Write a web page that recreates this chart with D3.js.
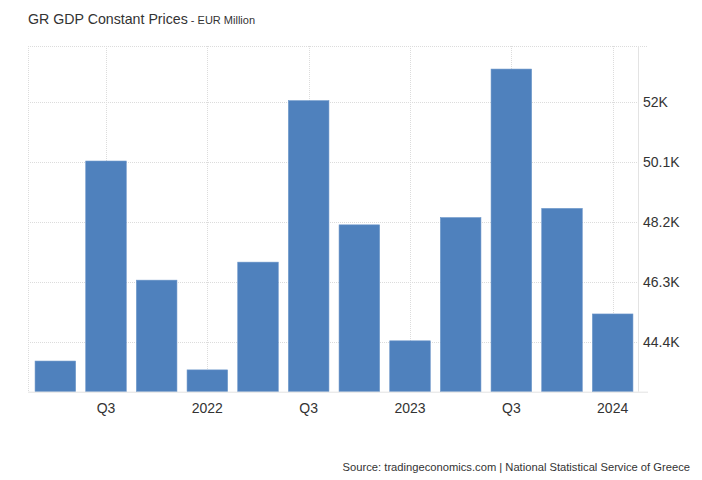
<!DOCTYPE html>
<html><head><meta charset="utf-8">
<script src="https://cdn.jsdelivr.net/npm/d3@7"></script>
<style>
body{margin:0;background:#fff;}
text{font-family:"Liberation Sans",Arial,sans-serif;}
</style></head>
<body>
<svg id="c" width="702" height="480"></svg>
<script>
const categories = ["2021Q2","2021Q3","2021Q4","2022Q1","2022Q2","2022Q3","2022Q4","2023Q1","2023Q2","2023Q3","2023Q4","2024Q1"];
const values = [43.79, 50.12, 46.35, 43.51, 46.92, 52.03, 48.10, 44.43, 48.33, 53.03, 48.62, 45.28];
const xTickCats = ["2021Q3","2022Q1","2022Q3","2023Q1","2023Q3","2024Q1"];
const xTickLabels = ["Q3","2022","Q3","2023","Q3","2024"];
const yTicks = [44.4, 46.3, 48.2, 50.1, 52.0];
const yTickLabels = ["44.4K","46.3K","48.2K","50.1K","52K"];

const svg = d3.select("#c");
const L = 28, R = 638, T = 46, B = 391.7;

const x = d3.scaleBand().domain(categories).range([30, 638]).paddingInner(0.2).paddingOuter(0.1);
const y = d3.scaleLinear().domain([42.82, 53.76]).range([B, T]);

// grid
const g = svg.append("g");
g.selectAll(".hg").data(yTicks).join("line")
  .attr("x1", L).attr("x2", R).attr("y1", d => Math.round(y(d)) + 0.5).attr("y2", d => Math.round(y(d)) + 0.5)
  .attr("stroke", "#dcdcdc").attr("stroke-dasharray", "1,1");
g.selectAll(".vg").data(xTickCats).join("line")
  .attr("x1", d => Math.round(x(d) + x.bandwidth()/2) + 0.5).attr("x2", d => Math.round(x(d) + x.bandwidth()/2) + 0.5)
  .attr("y1", T).attr("y2", B)
  .attr("stroke", "#dcdcdc").attr("stroke-dasharray", "1,1");
// top border
g.append("line").attr("x1", L).attr("x2", 648).attr("y1", T + 0.5).attr("y2", T + 0.5)
  .attr("stroke", "#dcdcdc").attr("stroke-dasharray", "1,1");
// left border
g.append("line").attr("x1", L + 0.5).attr("x2", L + 0.5).attr("y1", T).attr("y2", B)
  .attr("stroke", "#dcdcdc").attr("stroke-dasharray", "1,1");

// bars
svg.append("g").selectAll("rect").data(values).join("rect")
  .attr("x", (d, i) => x(categories[i]))
  .attr("width", x.bandwidth())
  .attr("y", d => y(d))
  .attr("height", d => B - y(d))
  .attr("fill", "#4f81bd")
  .attr("stroke", "#6a95c9").attr("stroke-width", 0.6);

// right axis line
svg.append("line").attr("x1", R + 0.5).attr("x2", R + 0.5).attr("y1", T).attr("y2", B)
  .attr("stroke", "#e3e3e3");
// bottom baseline
svg.append("line").attr("x1", L).attr("x2", 648).attr("y1", B + 0.5).attr("y2", B + 0.5)
  .attr("stroke", "#e3e3e3");

// y axis labels
const yAxis = d3.axisRight(y).tickValues(yTicks).tickSize(0).tickPadding(5)
  .tickFormat((d, i) => yTickLabels[i]);
const ya = svg.append("g").attr("transform", `translate(${R},0)`).call(yAxis);
ya.select(".domain").remove();
ya.selectAll("text").attr("font-size", 14).attr("fill", "#333").attr("font-family", "Liberation Sans, Arial, sans-serif");

// x axis labels
const xAxis = d3.axisBottom(x).tickValues(xTickCats).tickSize(0).tickPadding(11)
  .tickFormat((d, i) => xTickLabels[xTickCats.indexOf(d)]);
const xa = svg.append("g").attr("transform", `translate(0,${B})`).call(xAxis);
xa.select(".domain").remove();
xa.selectAll("text").attr("font-size", 14).attr("fill", "#333").attr("font-family", "Liberation Sans, Arial, sans-serif");

// title
const t = svg.append("text").attr("x", 28).attr("y", 24).attr("fill", "#333");
t.append("tspan").attr("font-size", 14.2).text("GR GDP Constant Prices");
t.append("tspan").attr("font-size", 11).text(" - EUR Million");

// source
svg.append("text").attr("x", 690).attr("y", 471).attr("text-anchor", "end")
  .attr("font-size", 11.2).attr("fill", "#333")
  .text("Source: tradingeconomics.com | National Statistical Service of Greece");
</script>
</body></html>
